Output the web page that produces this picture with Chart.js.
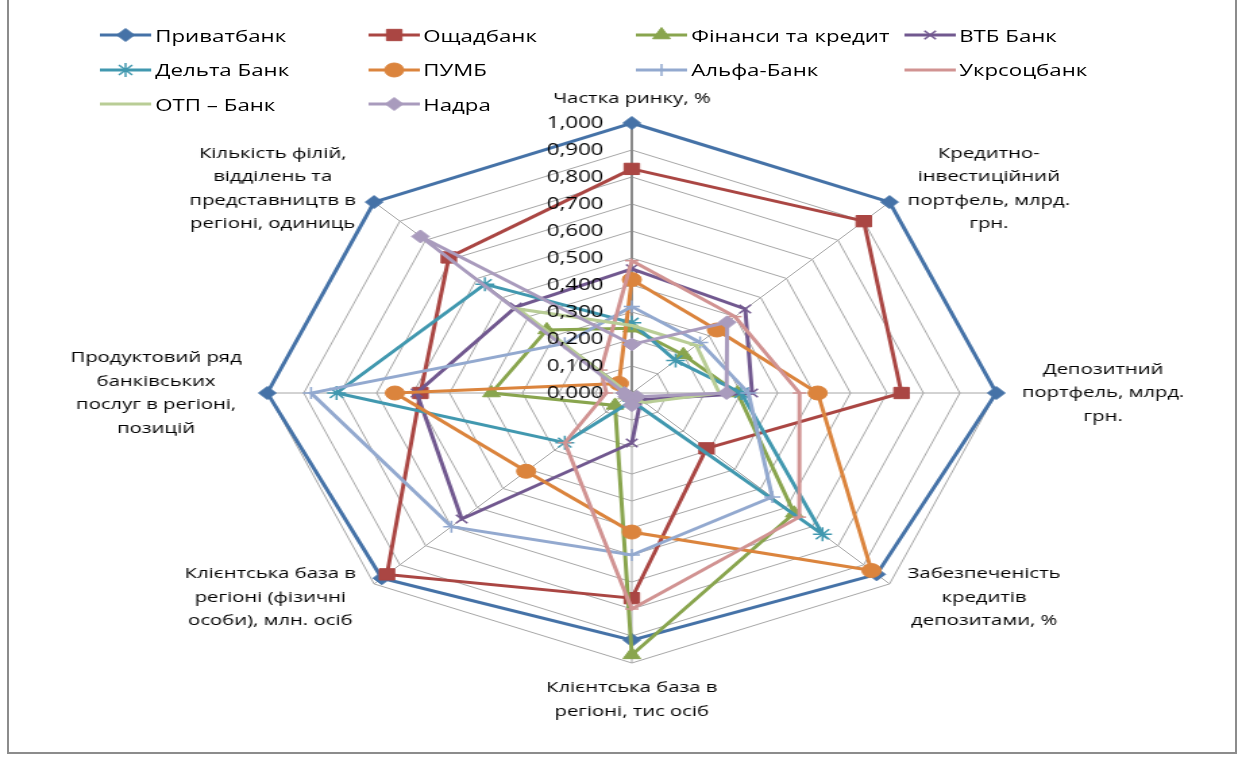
<!DOCTYPE html>
<html>
<head>
<meta charset="utf-8">
<script src="https://cdn.jsdelivr.net/npm/chart.js@4.4.0/dist/chart.umd.min.js"></script>
<style>
  html, body { margin: 0; padding: 0; background: #fff; overflow: hidden; }
  #frame { position: absolute; left: 7px; top: -3px; width: 1226px; height: 753px; border: 2px solid #8c8c8c; }
  /* the reference is an Excel picture stretched sideways, so the whole chart is drawn narrow and widened */
  #stretch { position: absolute; left: 0; top: 0; width: 920px; height: 769px; transform: scaleX(1.35); transform-origin: 0 0; }
  #radar-chart { position: absolute; left: 0; top: 0; }
  #legend { position: absolute; left: 74px; top: 18px; display: grid; grid-template-columns: repeat(4, 198.5px); grid-auto-rows: 34.5px; font-family: 'Open Sans', sans-serif; font-size: 16.5px; color: #000; }
  .item { display: flex; align-items: center; white-space: nowrap; }
  .item canvas { width: 38px; height: 20px; margin-right: 3px; }
</style>
</head>
<body>
<div id="frame"></div>
<div id="stretch">
  <canvas id="radar-chart" width="920" height="769"></canvas>
  <div id="legend"></div>
</div>
<script>
const axisLabels = [
    ['Частка ринку, %'],
    ['Кредитно-', 'інвестиційний', 'портфель, млрд.', 'грн.'],
    ['Депозитний', 'портфель, млрд.', 'грн.'],
    ['Забезпеченість', 'кредитів', 'депозитами, %'],
    ['Клієнтська база в', 'регіоні, тис осіб'],
    ['Клієнтська база в', 'регіоні (фізичні', 'особи), млн. осіб'],
    ['Продуктовий ряд', 'банківських', 'послуг в регіоні,', 'позицій'],
    ['Кількість філій,', 'відділень та', 'представництв в', 'регіоні, одиниць']
];

const privatbank = [1.0, 1.0, 1.0, 0.95, 0.915, 0.97, 1.0, 1.0];
const oschadbank = [0.83, 0.90, 0.74, 0.29, 0.76, 0.95, 0.58, 0.71];
const finansyKredyt = [0.24, 0.20, 0.29, 0.63, 0.97, 0.065, 0.385, 0.33];
const vtbBank = [0.46, 0.44, 0.33, 0.035, 0.185, 0.66, 0.59, 0.45];
const deltaBank = [0.26, 0.17, 0.30, 0.74, 0.03, 0.26, 0.81, 0.57];
const pumb = [0.42, 0.33, 0.51, 0.93, 0.515, 0.41, 0.65, 0.05];
const alfaBank = [0.32, 0.265, 0.32, 0.545, 0.60, 0.70, 0.88, 0.26];
const ukrsotsbank = [0.49, 0.40, 0.46, 0.65, 0.80, 0.26, 0.07, 0.12];
const otpBank = [0.25, 0.25, 0.24, 0.05, 0.02, 0.03, 0.01, 0.44];
const nadra = [0.18, 0.37, 0.26, 0.02, 0.045, 0.02, 0.02, 0.82];

const bankNames = ['Приватбанк', 'Ощадбанк', 'Фінанси та кредит', 'ВТБ Банк', 'Дельта Банк',
    'ПУМБ', 'Альфа-Банк', 'Укрсоцбанк', 'ОТП – Банк', 'Надра'];
const bankValues = [privatbank, oschadbank, finansyKredyt, vtbBank, deltaBank,
    pumb, alfaBank, ukrsotsbank, otpBank, nadra];
const bankColors = ['#4572A7', '#AA4643', '#89A54E', '#71588F', '#4198AF',
    '#DB843D', '#93A9CF', '#D19392', '#B9CD96', '#A99BBD'];
const bankMarkers = ['rectRot', 'rect', 'triangle', 'crossRot', 'star',
    'circle', 'cross', 'line', 'line', 'rectRot'];
const markerSizes = [6.5, 8, 7.5, 6, 7, 7, 6, 5, 5, 6.5];

function isThin(style) {
    return style === 'crossRot' || style === 'star' || style === 'cross' || style === 'line';
}

function makeDatasets() {
    var sets = [];
    for (let i = 0; i < bankNames.length; i++) {
        sets.push({
            label: bankNames[i],
            data: bankValues[i],
            borderColor: bankColors[i],
            backgroundColor: bankColors[i],
            borderWidth: 3,
            fill: false,
            pointStyle: bankMarkers[i],
            pointRadius: markerSizes[i],
            pointHoverRadius: markerSizes[i],
            pointBackgroundColor: bankColors[i],
            pointBorderColor: bankColors[i],
            pointBorderWidth: isThin(bankMarkers[i]) ? 1.5 : 1,
            order: bankNames.length - i
        });
    }
    return sets;
}

// axis titles and value labels, placed from the radial scale itself
const radarText = {
    id: 'radarText',
    afterDatasetsDraw(chart) {
        const scale = chart.scales.r;
        const ctx = chart.ctx;
        ctx.save();
        ctx.fillStyle = '#000';
        ctx.font = '15px "Open Sans"';
        ctx.textBaseline = 'middle';
        ctx.textAlign = 'center';
        const lh = 23.5;
        axisLabels.forEach((lines, i) => {
            let p = scale.getPointPosition(i, scale.drawingArea + 19);
            const dx = p.x - scale.xCenter;
            if (Math.abs(dx) < 1) p = scale.getPointPosition(i, scale.drawingArea + 13);
            const w = Math.max(...lines.map(t => ctx.measureText(t).width));
            const h = lines.length * lh;
            const dy = p.y - scale.yCenter;
            let cx = p.x, cy = p.y;
            if (dx > 1) cx = p.x + w / 2;
            else if (dx < -1) cx = p.x - w / 2;
            else cy = dy < 0 ? p.y - h / 2 : p.y + h / 2;
            lines.forEach((t, k) => ctx.fillText(t, cx, cy - h / 2 + lh * (k + 0.5)));
        });
        ctx.font = '16.5px "Open Sans"';
        ctx.textAlign = 'right';
        scale.ticks.forEach(tick => {
            const y = scale.yCenter - scale.getDistanceFromCenterForValue(tick.value);
            ctx.fillText(tick.label, scale.xCenter - 21, y);
        });
        ctx.restore();
    }
};

function makeRadarChart() {
    var ctx = document.getElementById('radar-chart').getContext('2d');
    window.radarChart = new Chart(ctx, {
        type: 'radar',
        data: {
            labels: axisLabels.map(l => l.join(' ')),
            datasets: makeDatasets()
        },
        options: {
            responsive: false,
            animation: false,
            layout: {
                padding: { left: 198, right: 182, top: 123, bottom: 106 }
            },
            scales: {
                r: {
                    min: 0,
                    max: 1,
                    ticks: {
                        stepSize: 0.1,
                        display: false,
                        showLabelBackdrop: false,
                        callback: v => v.toFixed(3).replace('.', ',')
                    },
                    pointLabels: { display: false },
                    grid: { color: '#a6a6a6', lineWidth: 1 },
                    angleLines: {
                        color: c => c.index === 0 ? '#8a8a8a' : '#a6a6a6',
                        lineWidth: c => c.index === 0 ? 2 : 1
                    }
                }
            },
            plugins: {
                legend: { display: false },
                tooltip: { enabled: false }
            }
        },
        plugins: [radarText]
    });
}

function makeLegend() {
    const box = document.getElementById('legend');
    for (let i = 0; i < bankNames.length; i++) {
        const item = document.createElement('div');
        item.className = 'item';
        const c = document.createElement('canvas');
        c.width = 38;
        c.height = 20;
        const g = c.getContext('2d');
        g.strokeStyle = bankColors[i];
        g.fillStyle = bankColors[i];
        g.lineWidth = 3;
        g.beginPath();
        g.moveTo(0, 10);
        g.lineTo(38, 10);
        g.stroke();
        if (bankMarkers[i] !== 'line') {
            g.lineWidth = isThin(bankMarkers[i]) ? 1.5 : 1;
            if (Chart.helpers && Chart.helpers.drawPoint) {
                Chart.helpers.drawPoint(g, {
                    pointStyle: bankMarkers[i],
                    radius: markerSizes[i],
                    rotation: 0,
                    borderWidth: g.lineWidth
                }, 19, 10);
            } else {
                g.beginPath();
                g.arc(19, 10, 5, 0, Math.PI * 2);
                g.fill();
            }
        }
        item.appendChild(c);
        const span = document.createElement('span');
        span.textContent = bankNames[i];
        item.appendChild(span);
        box.appendChild(item);
    }
}

makeRadarChart();
makeLegend();
</script>
</body>
</html>
